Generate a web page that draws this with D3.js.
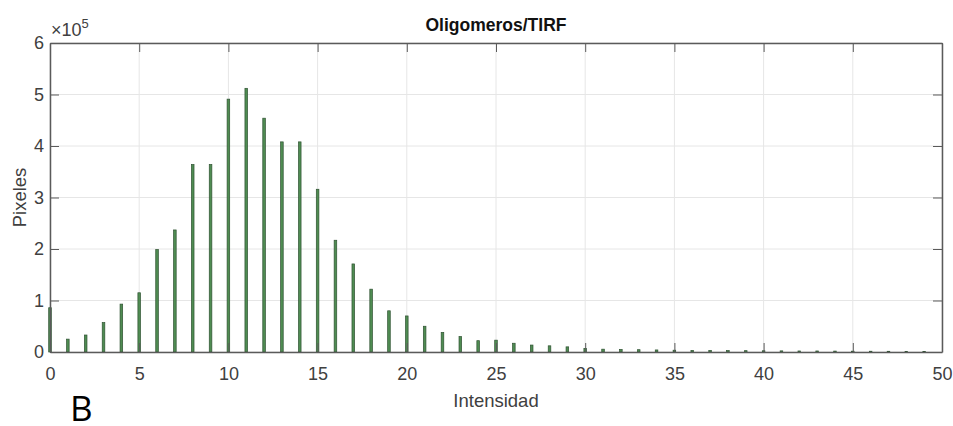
<!DOCTYPE html>
<html>
<head>
<meta charset="utf-8">
<script src="https://cdn.jsdelivr.net/npm/d3@7"></script>
<style>
  body { margin: 0; background: #fff; }
  text { font-family: "Liberation Sans", Arial, sans-serif; }
</style>
</head>
<body>
<div id="chart"></div>
<script>
// Histogram data: intensity bins and pixel counts (x 1e5)
const intensities = d3.range(0, 50);
const pixels = [
  0.86, 0.25, 0.33, 0.57, 0.93, 1.15, 1.99, 2.37, 3.64, 3.64,
  4.91, 5.12, 4.54, 4.08, 4.08, 3.16, 2.17, 1.71, 1.22, 0.80,
  0.70, 0.50, 0.38, 0.30, 0.22, 0.23, 0.17, 0.135, 0.12, 0.10,
  0.07, 0.055, 0.05, 0.045, 0.04, 0.035, 0.03, 0.03, 0.028, 0.026,
  0.024, 0.022, 0.02, 0.02, 0.018, 0.016, 0.015, 0.014, 0.012, 0.01
];
const xTicks = [0, 5, 10, 15, 20, 25, 30, 35, 40, 45, 50];
const yTicks = [0, 1, 2, 3, 4, 5, 6];

const width = 953, height = 426;
const margin = { top: 43, right: 11, bottom: 74, left: 50 };
const innerWidth = width - margin.left - margin.right;
const innerHeight = height - margin.top - margin.bottom;

const svg = d3.select("#chart").append("svg")
  .attr("width", width)
  .attr("height", height);

const g = svg.append("g")
  .attr("transform", `translate(${margin.left},${margin.top})`);

const x = d3.scaleLinear().domain([0, 50]).range([0, innerWidth]);
const y = d3.scaleLinear().domain([0, 6]).range([innerHeight, 0]);

// grid
g.append("g").selectAll("line")
  .data(xTicks)
  .join("line")
  .attr("x1", d => x(d)).attr("x2", d => x(d))
  .attr("y1", 0).attr("y2", innerHeight)
  .attr("stroke", "#e6e6e6").attr("stroke-width", 1);

g.append("g").selectAll("line")
  .data(yTicks)
  .join("line")
  .attr("x1", 0).attr("x2", innerWidth)
  .attr("y1", d => y(d)).attr("y2", d => y(d))
  .attr("stroke", "#e6e6e6").attr("stroke-width", 1);

// bars
const barW = 2.6;
g.selectAll("rect.bar")
  .data(intensities)
  .join("rect")
  .attr("class", "bar")
  .attr("x", d => x(d) - barW / 2)
  .attr("y", d => y(pixels[d]))
  .attr("width", barW)
  .attr("height", d => innerHeight - y(pixels[d]))
  .attr("fill", "#4f8c52")
  .attr("stroke", "#2f5232")
  .attr("stroke-width", 0.7);

// axes (MATLAB box style, ticks pointing inward)
const axisColor = "#5a5a5a";
const styleAxis = sel => {
  sel.select(".domain").attr("stroke", axisColor).attr("stroke-width", 1.5);
  sel.selectAll(".tick line").attr("stroke", axisColor);
  sel.selectAll(".tick text")
    .attr("fill", "#404040")
    .style("font-size", "18px");
};

g.append("g")
  .attr("transform", `translate(0,${innerHeight})`)
  .call(d3.axisBottom(x).tickValues(xTicks).tickSize(-9).tickPadding(15).tickSizeOuter(0))
  .call(styleAxis);

g.append("g")
  .call(d3.axisLeft(y).tickValues(yTicks).tickFormat(d3.format("d"))
    .tickSize(-9).tickPadding(6).tickSizeOuter(0))
  .call(styleAxis);

g.append("g")
  .call(d3.axisTop(x).tickValues(xTicks).tickSize(-9).tickFormat("").tickSizeOuter(0))
  .call(styleAxis);

g.append("g")
  .attr("transform", `translate(${innerWidth},0)`)
  .call(d3.axisRight(y).tickValues(yTicks).tickSize(-9).tickFormat("").tickSizeOuter(0))
  .call(styleAxis);

// exponent label
const expo = svg.append("text")
  .attr("x", margin.left + 1)
  .attr("y", margin.top - 7)
  .attr("fill", "#404040")
  .style("font-size", "18px");
expo.append("tspan").text("\u00d710");
expo.append("tspan").attr("dy", -8).style("font-size", "13px").text("5");

// title
svg.append("text")
  .attr("x", margin.left + innerWidth / 2)
  .attr("y", 31)
  .attr("text-anchor", "middle")
  .attr("fill", "#111")
  .style("font-size", "17.5px")
  .style("font-weight", "bold")
  .text("Oligomeros/TIRF");

// axis labels
svg.append("text")
  .attr("x", margin.left + innerWidth / 2)
  .attr("y", 407)
  .attr("text-anchor", "middle")
  .attr("fill", "#404040")
  .style("font-size", "18.5px")
  .text("Intensidad");

svg.append("text")
  .attr("transform", `translate(26,${margin.top + innerHeight / 2}) rotate(-90)`)
  .attr("text-anchor", "middle")
  .attr("fill", "#404040")
  .style("font-size", "18.5px")
  .text("Pixeles");

// panel letter
svg.append("text")
  .attr("x", 70)
  .attr("y", 421)
  .attr("fill", "#000")
  .style("font-family", "'Open Sans', 'Noto Sans', sans-serif")
  .style("font-size", "35px")
  .text("B");
</script>
</body>
</html>
